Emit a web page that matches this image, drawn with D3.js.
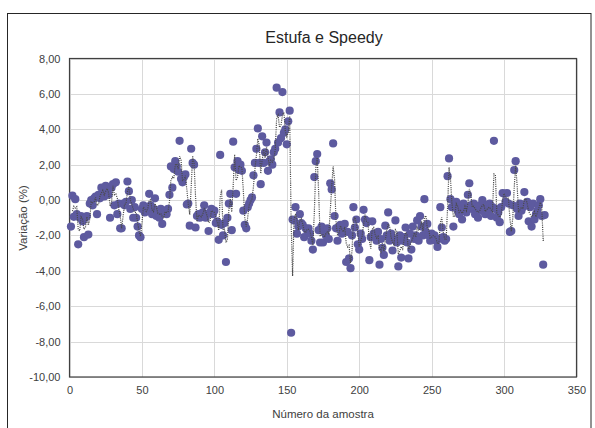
<!DOCTYPE html>
<html>
<head>
<meta charset="utf-8">
<script src="https://cdn.jsdelivr.net/npm/d3@7"></script>
<style>
  html, body { margin: 0; padding: 0; background: #fff; }
  svg { display: block; font-family: "Liberation Sans", Arial, sans-serif; }
</style>
</head>
<body>
<svg id="chart" width="595" height="428"></svg>
<script>
const title = "Estufa e Speedy";
const xAxisTitle = "Número da amostra";
const yAxisTitle = "Variação (%)";
const xTicks = [0, 50, 100, 150, 200, 250, 300, 350];
const yTicks = [-10, -8, -6, -4, -2, 0, 2, 4, 6, 8];

// Variação (%) per sample (samples numbered from 1)
const values = [
  -1.5, 0.25, -0.95, 0.05, -0.8, -2.5, -1.0, -0.9, -1.2, -2.1,
  -1.0, -0.9, -1.95, -0.2, 0.0, -0.3, 0.1, 0.2, -0.8, 0.3,
  0.1, 0.7, 0.4, 0.2, 0.8, 0.5, 0.3, -1.0, 0.7, 0.9,
  -0.3, 1.0, -0.8, -0.2, -1.6, -1.6, -0.2, -0.3, -0.1, 1.05,
  0.5, -0.5, 0.0, -1.0, -0.4, -1.0, -1.5, -2.0, -2.1, -0.5,
  -0.3, -0.7, -0.6, -0.4, 0.35, -0.3, -0.8, -0.5, 0.1, -0.9,
  -0.6, -1.0, -0.5, -1.35, -0.7, -0.6, -0.8, -0.5, 0.3, 1.9,
  0.7, 1.75, 2.2, 1.9, 1.6, 3.35, 1.2, 1.0, 1.3, 1.45,
  -0.25, -0.2, -1.45, 2.9, 2.1, 2.0, -1.55, -0.9, -0.8, -1.0,
  -0.9, -0.7, -0.3, -1.0, -0.8, -1.75, -0.7, -0.5, -0.8, -0.6,
  -1.3, -1.2, -2.25, 2.55, -1.4, -2.0, -1.3, -3.5, -1.0, -0.2,
  0.35, -1.7, 3.3, 1.85, 0.35, 2.2, 1.7, 2.0, 1.65, -0.6,
  -1.4, -1.6, -0.4, -0.2, 0.0, 0.15, 1.4, 2.1, 2.9, 4.05,
  2.1, 0.9, 3.6, 2.1, 2.7, 3.25, 1.65, 2.2, 2.3, 2.0,
  2.7, 2.9, 6.35, 3.25, 4.95, 3.5, 6.1, 3.8, 4.0, 3.15,
  4.45, 5.05, -7.5, -1.1, -1.15, -0.4, -1.9, -1.5, -0.8, -1.3,
  -1.4, -2.1, -1.6, -1.7, -1.6, -1.9, -2.3, -2.8, 1.3, 2.2,
  2.6, -1.7, -2.4, -1.5, -2.4, -1.8, -2.0, -1.6, -2.2, 0.95,
  0.6, 3.2, -0.9, -1.6, -2.3, -1.5, -1.4, -1.9, -1.7, -1.35,
  -3.5, -1.8, -3.3, -3.85, -2.0, -0.4, -1.55, -1.1, -2.5, -2.8,
  -1.9, -2.2, -0.55, -1.1, -1.3, -1.2, -3.4, -2.1, -1.2, -1.9,
  -2.0, -2.3, -1.8, -3.65, -2.2, -2.7, -3.1, -1.45, -2.0, -0.7,
  -2.3, -1.9, -2.85, -2.2, -1.15, -2.4, -3.75, -2.0, -3.25, -2.3,
  -2.1, -1.55, -2.4, -3.3, -1.9, -2.8, -1.5, -2.2, -2.0, -1.15,
  -2.3, -0.9, -1.5, -2.0, 0.05, -1.8, -1.35, -2.0, -2.3, -1.9,
  -2.1, -2.0, -2.3, -2.65, -2.2, -0.4, -1.55, -2.1, -2.3, -2.2,
  1.35, 2.35, 0.05, -0.4, -1.5, -0.3, -0.1, -0.6, -0.8, -0.4,
  -1.1, -0.2, -0.5, -0.7, 0.3, 0.95, -0.3, -0.5, -0.2, -0.8,
  -0.4, -1.0, -0.3, -0.6, 0.0, -0.5, -0.8, -0.3, -0.6, -0.2,
  -0.9, -0.4, 3.35, -0.5, -1.0, -0.7, -1.25, -0.4, 0.4, 0.35,
  -0.1, 0.4, -0.2, -1.8, -1.75, -0.3, 1.7, 2.2, -0.5, -0.9,
  -0.2, -0.6, -0.4, 0.45, -0.3, -0.1, -1.2, -0.4, -1.5, -0.2,
  -1.1, -0.8, -0.6, -0.3, 0.05, -0.9, -3.65, -0.85
];

const points = values.map((v, i) => ({ x: i + 1, y: v }));
// 2-period moving average trendline
const movingAvg = points.slice(1).map((p, i) => ({ x: p.x, y: (values[i] + values[i + 1]) / 2 }));

const svg = d3.select("#chart");
const pLeft = 69.5, pRight = 576.5, pTop = 58.5, pBottom = 377;

const x = d3.scaleLinear().domain([0, 350]).range([pLeft, pRight]);
const y = d3.scaleLinear().domain([-10, 8]).range([pBottom, pTop]);
const fmt = v => d3.format(".2f")(v).replace(".", ",").replace("−", "-");

svg.append("rect").attr("x", 0).attr("y", 0).attr("width", 595).attr("height", 428).attr("fill", "#fff");
// outer chart border
svg.append("rect").attr("x", 7.5).attr("y", 13.5).attr("width", 583.5).attr("height", 430)
  .attr("fill", "none").attr("stroke", "#262626").attr("stroke-width", 1);

// gridlines
const grid = svg.append("g");
grid.selectAll("line.h").data(yTicks).join("line")
  .attr("x1", pLeft).attr("x2", pRight)
  .attr("y1", d => Math.round(y(d)) + 0.5).attr("y2", d => Math.round(y(d)) + 0.5)
  .attr("stroke", "#d9d9d9").attr("stroke-width", 1);
grid.selectAll("line.v").data(xTicks).join("line")
  .attr("y1", pTop).attr("y2", pBottom)
  .attr("x1", d => Math.round(x(d)) + 0.5).attr("x2", d => Math.round(x(d)) + 0.5)
  .attr("stroke", "#d9d9d9").attr("stroke-width", 1);

// plot area border
svg.append("rect").attr("x", pLeft).attr("y", pTop).attr("width", pRight - pLeft).attr("height", pBottom - pTop)
  .attr("fill", "none").attr("stroke", "#404040").attr("stroke-width", 1.2);

// axes labels via d3 axes
const yAxis = d3.axisLeft(y).tickValues(yTicks).tickFormat(fmt).tickSize(0).tickPadding(9);
const gy = svg.append("g").attr("transform", `translate(${pLeft},0)`).call(yAxis);
gy.select(".domain").remove();
gy.selectAll("text").attr("fill", "#404040").style("font-size", "11px").style("font-family", "'Liberation Sans', Arial, sans-serif");

const xAxis = d3.axisBottom(x).tickValues(xTicks).tickFormat(d3.format("d")).tickSize(0).tickPadding(9);
const gx = svg.append("g").attr("transform", `translate(0,${pBottom})`).call(xAxis);
gx.select(".domain").remove();
gx.selectAll("text").attr("fill", "#404040").style("font-size", "11px").style("font-family", "'Liberation Sans', Arial, sans-serif");

// points
svg.append("g").selectAll("circle").data(points).join("circle")
  .attr("cx", d => x(d.x)).attr("cy", d => y(d.y)).attr("r", 4.1)
  .attr("fill", "#5d5a9f");

// moving average dotted line
svg.append("path").datum(movingAvg)
  .attr("d", d3.line().x(d => x(d.x)).y(d => y(d.y)))
  .attr("fill", "none").attr("stroke", "#4a4a4a").attr("stroke-width", 1.2)
  .attr("stroke-dasharray", "1.1,1.1");

// titles
svg.append("text").attr("x", 324).attr("y", 43).attr("text-anchor", "middle")
  .style("font-size", "16px").attr("fill", "#262626").text(title);
svg.append("text").attr("x", 323).attr("y", 418).attr("text-anchor", "middle")
  .style("font-size", "11.5px").attr("fill", "#404040").text(xAxisTitle);
svg.append("text").attr("transform", "translate(27,218) rotate(-90)").attr("text-anchor", "middle")
  .style("font-size", "11.5px").attr("fill", "#404040").text(yAxisTitle);
</script>
</body>
</html>
